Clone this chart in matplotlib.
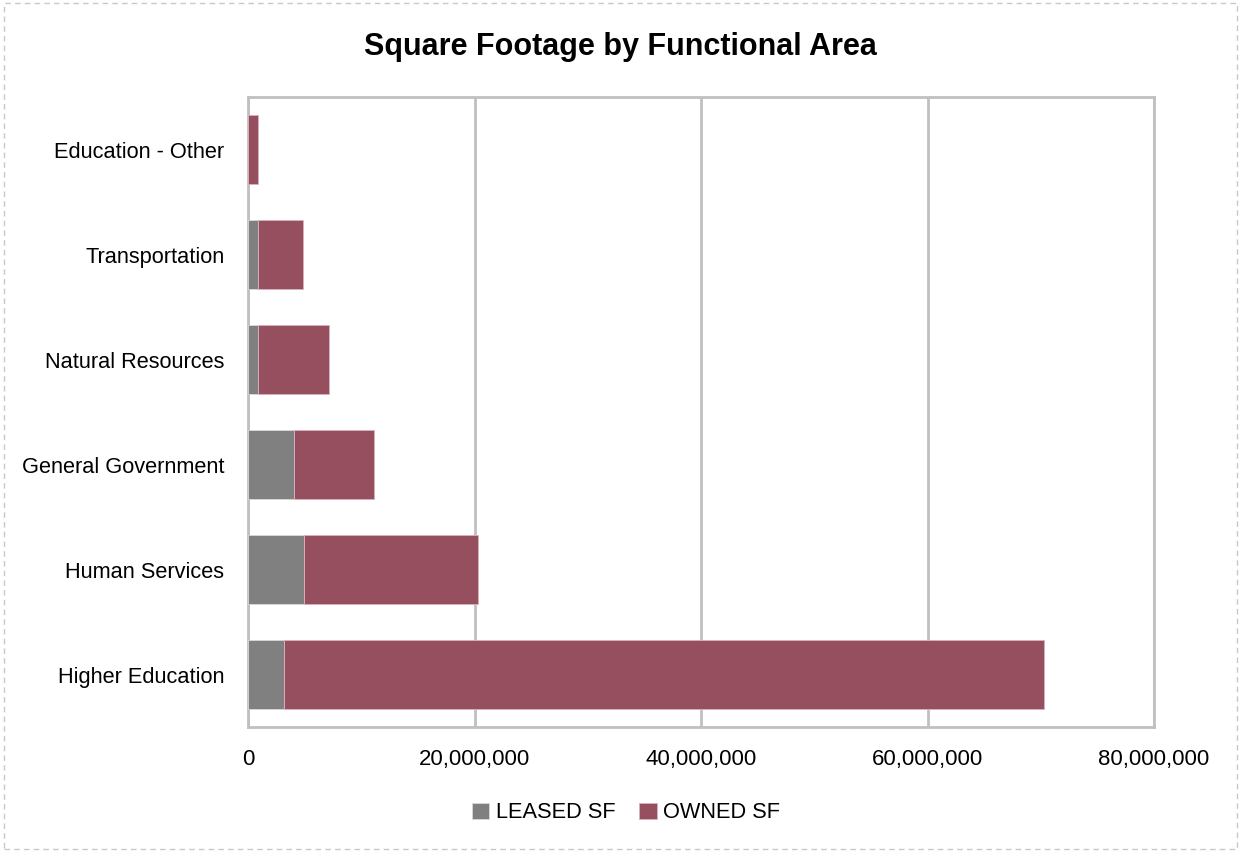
import numpy as np
import matplotlib
matplotlib.use("Agg")
import matplotlib.pyplot as plt
from matplotlib.ticker import FuncFormatter
from matplotlib.patches import Rectangle

plt.rcParams['font.family'] = ['Liberation Sans Narrow', 'Liberation Sans', 'DejaVu Sans']

# data
categories = ['Higher Education', 'Human Services', 'General Government',
              'Natural Resources', 'Transportation', 'Education - Other']
leased_sf = [3140000, 4970000, 4020000, 860000, 860000, 0]
owned_sf = [67160000, 15330000, 7120000, 6290000, 4040000, 840000]
x_ticks = [0, 20000000, 40000000, 60000000, 80000000]

grey = '#808080'
maroon = '#954F5F'
grid_col = '#C0C0C0'

fig = plt.figure(figsize=(12.41, 8.52), dpi=100)
ax = fig.add_axes([248 / 1241, 1 - 727 / 852, (1154 - 248) / 1241, (727 - 97) / 852])

y = np.arange(len(categories))
ax.barh(y, leased_sf, height=0.66, color=grey, edgecolor='#d9d9d9', linewidth=0.6,
        label='LEASED SF', zorder=3)
ax.barh(y, owned_sf, left=leased_sf, height=0.66, color=maroon, edgecolor='#d9b3bb',
        linewidth=0.6, label='OWNED SF', zorder=3)

ax.set_xlim(0, 80000000)
ax.set_ylim(-0.5, len(categories) - 0.5)
ax.set_xticks(x_ticks)
ax.xaxis.set_major_formatter(FuncFormatter(lambda v, p: f'{int(v):,}'))
ax.set_yticks(y)
ax.set_yticklabels(categories)
ax.tick_params(axis='both', length=0, colors='black')
ax.tick_params(axis='x', pad=16, labelsize=16)
ax.tick_params(axis='y', pad=17, labelsize=15.7)

ax.grid(axis='x', color=grid_col, linewidth=2, zorder=0)
for s in ax.spines.values():
    s.set_color(grid_col)
    s.set_linewidth(2)

fig.text(0.5, 1 - 47 / 852, 'Square Footage by Functional Area', ha='center', va='center',
         fontsize=22, fontweight='bold')

leg = fig.legend(loc='center', bbox_to_anchor=(626 / 1241, 1 - 813 / 852), ncol=2, frameon=False,
                 fontsize=15.7, handlelength=0.8, handleheight=0.8, handletextpad=0.3,
                 columnspacing=1.1)

# dashed border of the chart frame
fig.patches.append(Rectangle((0.003, 0.003), 0.994, 0.994, transform=fig.transFigure,
                             fill=False, edgecolor='#c8c8c8', linewidth=1, linestyle=(0, (4, 3))))

fig.savefig('out.png', dpi=100)
